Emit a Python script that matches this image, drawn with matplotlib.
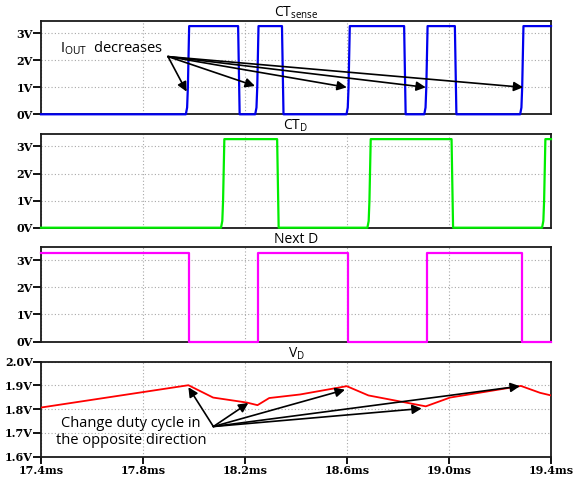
import matplotlib
matplotlib.use('Agg')
import matplotlib.pyplot as plt

plt.rcParams['mathtext.fontset'] = 'custom'
plt.rcParams['mathtext.rm'] = 'Open Sans'
plt.rcParams['mathtext.it'] = 'Open Sans:italic'
plt.rcParams['mathtext.bf'] = 'Open Sans:bold'

# ---------------- data ----------------
x_ticks = [17.4, 17.8, 18.2, 18.6, 19.0, 19.4]
x_tick_labels = ['17.4ms', '17.8ms', '18.2ms', '18.6ms', '19.0ms', '19.4ms']
v_ticks = [0, 1, 2, 3]
v_tick_labels = ['0V', '1V', '2V', '3V']
vd_ticks = [1.6, 1.7, 1.8, 1.9, 2.0]
vd_tick_labels = ['1.6V', '1.7V', '1.8V', '1.9V', '2.0V']

logic_high = 3.27

# switching instants (ms); each list alternates starting from the initial level
ct_sense_edges = [17.978, 18.176, 18.250, 18.348, 18.608, 18.827, 18.913, 19.026, 19.289]
ct_sense_start_high = False
ct_d_edges = [18.116, 18.329, 18.690, 19.013, 19.375]
ct_d_start_high = False
next_d_edges = [17.979, 18.251, 18.605, 18.913, 19.288]
next_d_start_high = True

vd_t = [17.4, 17.978, 18.075, 18.207, 18.249, 18.295, 18.416, 18.599, 18.684, 18.909, 19.004, 19.282, 19.357, 19.4]
vd_v = [1.807, 1.901, 1.849, 1.828, 1.817, 1.847, 1.862, 1.897, 1.858, 1.812, 1.849, 1.898, 1.869, 1.858]

iout_arrow_from = (17.898, 2.14)
iout_arrow_to = [(17.971, 0.84), (18.239, 1.05), (18.599, 1.0), (18.909, 1.0), (19.291, 1.0)]
duty_arrow_from = (18.076, 1.727)
duty_arrow_to = [(17.978, 1.8925), (18.213, 1.826), (18.592, 1.882), (18.893, 1.803), (19.278, 1.897)]


def waveform(edges, start_high, soft):
    t = [17.4]
    v = [logic_high if start_high else 0.0]
    high = start_high
    for e in edges:
        if soft:
            if not high:
                t += [e - 0.010, e - 0.005, e - 0.002, e + 0.003]
                v += [0.0, 0.25, 1.0, logic_high]
            else:
                t += [e - 0.003, e + 0.003]
                v += [logic_high, 0.0]
        else:
            t += [e, e]
            v += [logic_high, 0.0] if high else [0.0, logic_high]
        high = not high
    t.append(19.4)
    v.append(logic_high if high else 0.0)
    return t, v


fig = plt.figure(figsize=(5.73, 4.84), dpi=100)
left, width = 41 / 573, 510 / 573
tops = [20.7, 133.7, 247.3, 361.7]
bottoms = [114.3, 227.7, 341.7, 456.7]
axes = [fig.add_axes([left, 1 - b / 484, width, (b - t) / 484]) for t, b in zip(tops, bottoms)]

tick_font = dict(family='DejaVu Serif', weight='bold', size=8)
title_kw = dict(fontsize=10, family='Open Sans', pad=1.5)

for i, ax in enumerate(axes):
    ax.set_xlim(17.4, 19.4)
    ax.set_xticks(x_ticks)
    ax.grid(True, color='#a8a8a8', linestyle=(0, (1, 2)), linewidth=0.8, zorder=0)
    ax.set_axisbelow(True)
    for s in ax.spines.values():
        s.set_linewidth(1.3)
        s.set_color('#1a1a1a')
    ax.tick_params(axis='y', direction='out', length=5.5, width=1.3, pad=0.5)
    if i < 3:
        ax.set_ylim(0, 3.47)
        ax.set_yticks(v_ticks)
        ax.set_yticklabels(v_tick_labels, **tick_font)
        ax.tick_params(axis='x', length=0, labelbottom=False)
    else:
        ax.set_ylim(1.6, 2.0)
        ax.set_yticks(vd_ticks)
        ax.set_yticklabels(vd_tick_labels, **tick_font)
        ax.set_xticklabels(x_tick_labels, **tick_font)
        ax.tick_params(axis='x', direction='out', length=5, width=1.3, pad=1)

t, v = waveform(ct_sense_edges, ct_sense_start_high, True)
axes[0].plot(t, v, color='#0000ee', lw=1.6, clip_on=False, zorder=3)
t, v = waveform(ct_d_edges, ct_d_start_high, True)
axes[1].plot(t, v, color='#00ee00', lw=1.6, clip_on=False, zorder=3)
t, v = waveform(next_d_edges, next_d_start_high, False)
axes[2].plot(t, v, color='#ff00ff', lw=1.6, clip_on=False, zorder=3)
axes[3].plot(vd_t, vd_v, color='#ff0000', lw=1.3, zorder=3)

axes[0].set_title(r'CT$_{\mathrm{sense}}$', **title_kw)
axes[1].set_title(r'CT$_{\mathrm{D}}$', **title_kw)
axes[2].set_title('Next D', **title_kw)
axes[3].set_title(r'V$_{\mathrm{D}}$', **title_kw)

arrow_kw = dict(arrowstyle='-|>', color='black', lw=1.2, mutation_scale=14, shrinkA=0, shrinkB=0)
for tgt in iout_arrow_to:
    axes[0].annotate('', xy=tgt, xytext=iout_arrow_from, arrowprops=arrow_kw, zorder=5)
axes[0].text(17.4745, 2.46, r'I$_{\mathrm{OUT}}$  decreases', fontsize=10.5, family='Open Sans',
             ha='left', va='center', zorder=5)

for tgt in duty_arrow_to:
    axes[3].annotate('', xy=tgt, xytext=duty_arrow_from, arrowprops=arrow_kw, zorder=5)
axes[3].text(17.753, 1.705, 'Change duty cycle in\nthe opposite direction', fontsize=10.5,
             family='Open Sans', ha='center', va='center', multialignment='center',
             linespacing=1.15, zorder=5)

fig.savefig('out.png', dpi=100)
